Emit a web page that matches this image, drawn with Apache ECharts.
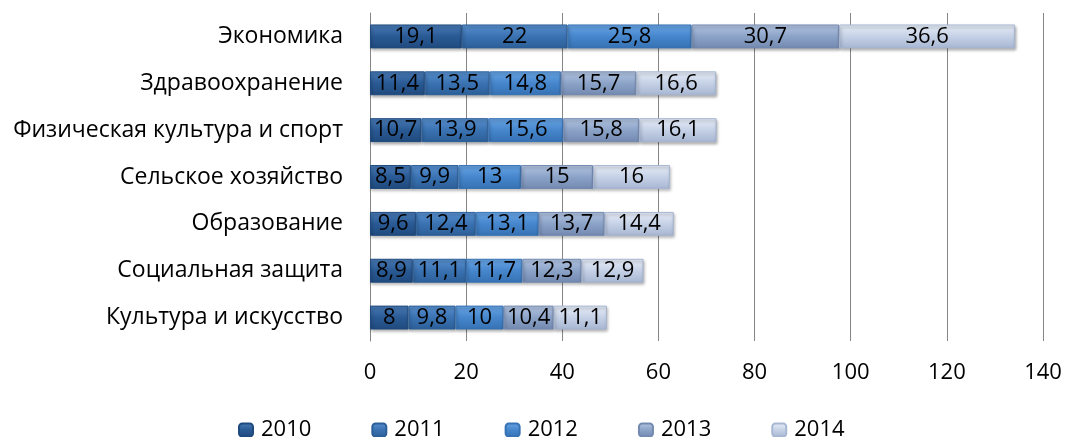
<!DOCTYPE html>
<html><head><meta charset="utf-8">
<script src="https://cdn.jsdelivr.net/npm/echarts@6/dist/echarts.min.js"></script>
<style>html,body{margin:0;padding:0;background:#fff}#c{width:1068px;height:437px}</style>
</head><body><div id="c"></div>
<script>
const categories = ['Экономика','Здравоохранение','Физическая культура и спорт','Сельское хозяйство','Образование','Социальная защита','Культура и искусство'];
const years = ['2010','2011','2012','2013','2014'];
const v2010 = [19.1, 11.4, 10.7, 8.5, 9.6, 8.9, 8];
const v2011 = [22, 13.5, 13.9, 9.9, 12.4, 11.1, 9.8];
const v2012 = [25.8, 14.8, 15.6, 13, 13.1, 11.7, 10];
const v2013 = [30.7, 15.7, 15.8, 15, 13.7, 12.3, 10.4];
const v2014 = [36.6, 16.6, 16.1, 16, 14.4, 12.9, 11.1];
const xTicks = [0,20,40,60,80,100,120,140];

const seriesData = [v2010, v2011, v2012, v2013, v2014];
const palette = [
  ['#4a7cb8','#2a5a94','#1f4a7e'],
  ['#5a91d0','#3a72b2','#2c5f98'],
  ['#6aa6e6','#4686cc','#3672b4'],
  ['#b4c6e2','#8ca3c8','#7389b0'],
  ['#e8eef8','#c5d1e6','#a7b6d2']
];
const fontFamily = '"Open Sans", sans-serif';
const chart = echarts.init(document.getElementById('c'));
chart.setOption({
  animation:false,
  textStyle:{fontFamily},
  grid:{left:370,right:25,top:13,height:328},
  legend:{top:414,left:233,itemWidth:14,itemHeight:13,itemGap:60,
    textStyle:{fontSize:22,color:'#000',fontFamily,padding:[0,0,0,3]},
    data:years},
  xAxis:{type:'value',min:0,max:140,interval:20,
    axisLabel:{fontSize:22,color:'#000',margin:21,fontFamily,formatter:v=>xTicks.includes(v)?String(v):''},
    splitLine:{lineStyle:{color:'#868686',width:1}},
    axisLine:{show:false},axisTick:{show:false}},
  yAxis:{type:'category',inverse:true,data:categories,
    axisLabel:{fontSize:23,color:'#000',margin:27,fontFamily},
    axisLine:{show:true,lineStyle:{color:'#868686'}},axisTick:{show:false}},
  series: years.map((y,i)=>({
    name:y,type:'bar',stack:'s',barCategoryGap:'49%',
    data:seriesData[i],
    itemStyle:{
      color:new echarts.graphic.LinearGradient(0,0,0,1,[
        {offset:0,color:palette[i][0]},{offset:0.5,color:palette[i][1]},{offset:1,color:palette[i][2]}]),
      borderColor:palette[i][2],borderWidth:1,
      shadowColor:'rgba(0,0,0,0.35)',shadowBlur:3,shadowOffsetX:1,shadowOffsetY:2
    },
    label:{show:true,position:'inside',color:'#000',fontSize:22,fontFamily,
      formatter:p=>String(p.value).replace('.',',')}
  }))
});
</script></body></html>
